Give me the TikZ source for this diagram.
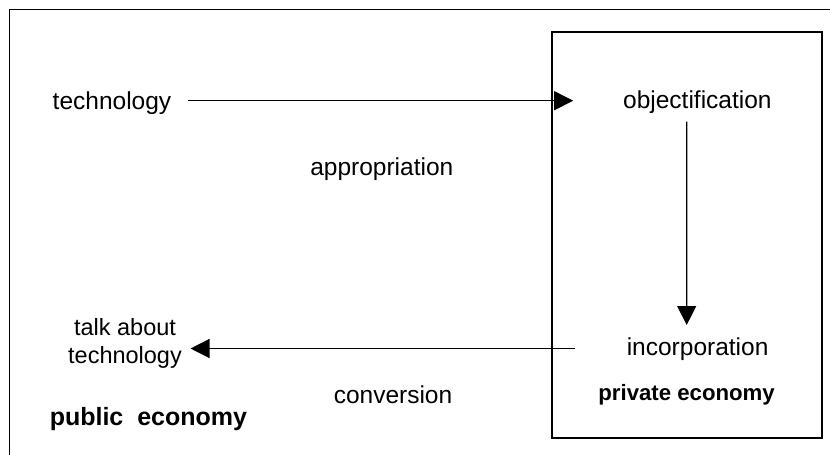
\documentclass[tikz,border=0pt]{standalone}
\usepackage{fontspec}
\setmainfont{Liberation Sans}
\usetikzlibrary{arrows.meta}
\begin{document}
\begin{tikzpicture}[x=1pt,y=-1pt,
  lbl/.style={inner sep=0pt,font=\fontsize{24.5}{28.5}\selectfont},
  boldlbl/.style={inner sep=0pt,font=\bfseries\fontsize{#1}{#1}\selectfont},
  flow/.style={line width=1.3pt,-{Triangle[length=19pt,width=19pt]}},
  frame/.style={line width=1.6pt},
  area/.style={draw,line width=2pt}]
  \useasboundingbox (0,0) rectangle (830,455);

  % outer frame, running off the right and bottom edges
  \draw[frame] (9.5,455) -- (9.5,9.3) -- (830,9.3);

  % private economy box
  \node[area,minimum width=270pt,minimum height=406pt,inner sep=0pt] (priv) at (686.75,234.7) {};

  % labels
  \node[lbl] (tech) at (112,103) {technology};
  \node[lbl] (obj)  at (697.4,102) {objectification};
  \node[lbl] (appr) at (381.8,169) {appropriation};
  \node[lbl] (inc)  at (697.6,349) {incorporation};
  \node[lbl,align=center,font=\fontsize{23.5}{28}\selectfont] (talk) at (125,343) {talk about\\technology};
  \node[lbl] (conv) at (393,395) {conversion};
  \node[boldlbl=22.2] (privlbl) at (686.6,395) {private economy};
  \node[boldlbl=25] (publbl) at (148.4,419.5) {public\ \ economy};

  % connectors
  \draw[flow] ([xshift=17pt,yshift=2.3pt]tech.east) -- ([xshift=-49.8pt,yshift=1.3pt]obj.west);
  \draw[flow] ([xshift=-10.7pt,yshift=-19.7pt]obj.center) -- ([xshift=-10.9pt,yshift=24pt]inc.center);
  \draw[flow] ([xshift=-51.7pt,yshift=0.5pt]inc.west) -- ([xshift=8.5pt,yshift=-5.5pt]talk.east);
\end{tikzpicture}
\end{document}
